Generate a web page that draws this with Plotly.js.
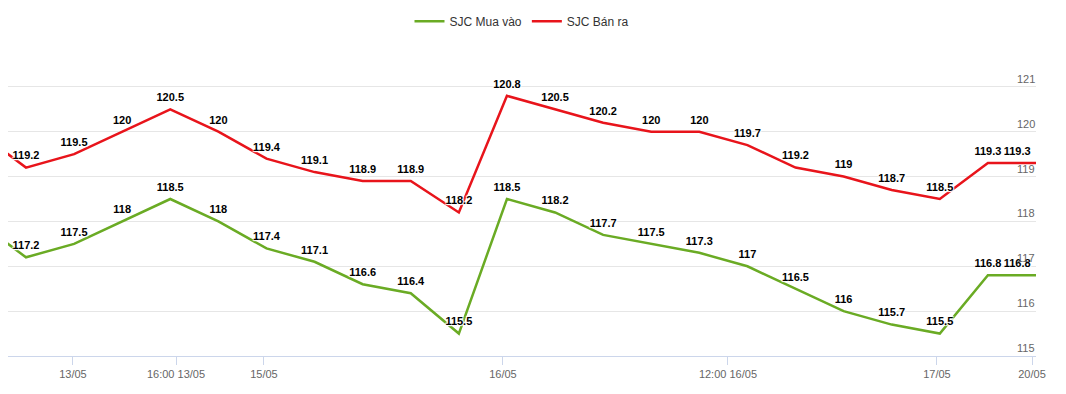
<!DOCTYPE html>
<html>
<head>
<meta charset="utf-8">
<script src="https://cdn.plot.ly/plotly-3.0.1.min.js"></script>
<style>html,body{margin:0;padding:0;background:#fff;}#chart{width:1066px;height:394px;}</style>
</head>
<body>
<div id="chart"></div>
<script>
// Point index (index 0 lies just left of the visible window)
var pointIndex = [0,1,2,3,4,5,6,7,8,9,10,11,12,13,14,15,16,17,18,19,20,21,22];
var muaVao = [118,117.2,117.5,118,118.5,118,117.4,117.1,116.6,116.4,115.5,118.5,118.2,117.7,117.5,117.3,117,116.5,116,115.7,115.5,116.8,116.8];
var banRa  = [120,119.2,119.5,120,120.5,120,119.4,119.1,118.9,118.9,118.2,120.8,120.5,120.2,120,120,119.7,119.2,119,118.7,118.5,119.3,119.3];
var xTickPos   = [1.977, 4.119, 5.948, 10.917, 15.595, 19.94, 21.917];
var xTickLabels = ['13/05','16:00 13/05','15/05','16/05','12:00 16/05','17/05','20/05'];
var yTickVals  = [115,116,117,118,119,120,121,122];
var yTickLabels = ['115','116','117','118','119','120','121'];
var seriesNames = ['SJC Mua vào','SJC Bán ra'];

function labels(arr){ return arr.map(function(v,i){ return i===0 ? '' : String(v); }); }
function positions(arr){ return arr.map(function(v,i){ return i===arr.length-1 ? 'top left' : 'top center'; }); }

var labelFont = {family:'"Liberation Sans", Arial, sans-serif', size:11, color:'#000', weight:'bold',
  shadow:'1px 1px 1px #fff, -1px -1px 1px #fff, 1px -1px 1px #fff, -1px 1px 1px #fff'};

function makeTrace(vals, name, color){
  return {x:pointIndex, y:vals, name:name, mode:'lines+markers+text', type:'scatter',
   line:{color:color, width:2.5}, marker:{size:7, color:'rgba(0,0,0,0)', line:{width:0}},
   text:labels(vals), textposition:positions(vals),
   textfont:labelFont, cliponaxis:false, hoverinfo:'y'};
}
var traces = [makeTrace(muaVao, seriesNames[0], '#6aab24'), makeTrace(banRa, seriesNames[1], '#e8141b')];

var yAnn = yTickLabels.map(function(t, i){
  return {xref:'paper', yref:'y', x:1, y:yTickVals[i], xanchor:'right', yanchor:'bottom',
          text:t, showarrow:false, font:{size:11, color:'#666', family:'"Liberation Sans", Arial, sans-serif'},
          yshift:0, xshift:1};
});

var layout = {
  width:1066, height:394,
  margin:{l:8, r:30, t:41, b:38, pad:0},
  paper_bgcolor:'#fff', plot_bgcolor:'#fff',
  font:{family:'"Liberation Sans", Arial, sans-serif', size:12, color:'#333'},
  showlegend:true,
  legend:{orientation:'h', x:0.5, xanchor:'center', y:1.063, yanchor:'middle',
          font:{size:12, color:'#333'}, itemwidth:30, traceorder:'normal'},
  xaxis:{range:[0.626, 22], tickmode:'array', tickvals:xTickPos, ticktext:xTickLabels,
         showgrid:false, zeroline:false, showline:true, linecolor:'#ccd6eb', linewidth:1,
         ticks:'outside', ticklen:8, tickcolor:'#ccd6eb', tickwidth:1,
         tickfont:{size:11, color:'#666'}},
  yaxis:{range:[115, 122], side:'right', tickmode:'array', tickvals:yTickVals,
         showticklabels:false, showgrid:true, gridcolor:'#e6e6e6', gridwidth:1,
         zeroline:false, showline:false, ticks:''},
  annotations:yAnn
};

Plotly.newPlot('chart', traces, layout, {displayModeBar:false, staticPlot:true});
</script>
</body>
</html>
